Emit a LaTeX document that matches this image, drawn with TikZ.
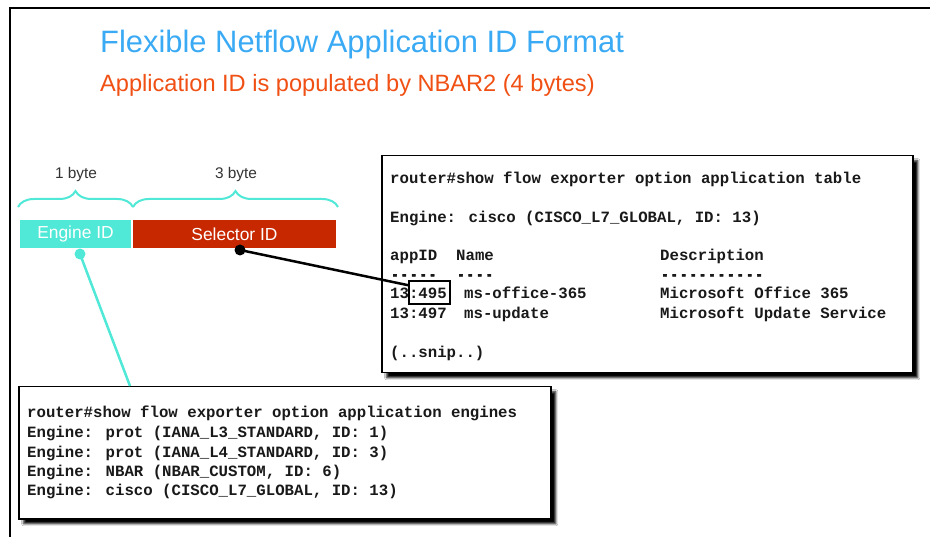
\documentclass[tikz,border=0pt]{standalone}
\usepackage{fontspec}
\usepackage{graphicx}
\setmainfont{Liberation Sans}
\newfontfamily\codefont{Liberation Mono}
\newfontfamily\dashfont{Liberation Mono Bold}[FakeBold=4]
\usetikzlibrary{decorations.pathreplacing,shadows.blur}
\definecolor{titleblue}{RGB}{58,170,245}
\definecolor{suborange}{RGB}{240,80,20}
\definecolor{tealc}{RGB}{80,232,214}
\definecolor{selred}{RGB}{200,40,0}
\newcommand\mydsh{\makebox[0.6em]{\scalebox{0.75}[1]{\dashfont -}}}
\begin{document}
\begin{tikzpicture}[x=1pt,y=-1pt,
  code/.style={font=\codefont\bfseries\fontsize{15.7}{19.5}\selectfont, anchor=base west, inner sep=0pt, text=black!90},
  termbox/.style={draw=black, line width=1.5pt, fill=white, inner sep=0pt, anchor=north west,
    blur shadow={shadow xshift=5pt, shadow yshift=-5pt, shadow opacity=100, shadow blur steps=4}},
  idbox/.style={text=white, font=\fontsize{17.4}{20}\selectfont, inner sep=0pt, minimum height=28pt},
  bracestyle/.style={draw=tealc, line width=2pt, decorate, decoration={brace, amplitude=16pt}},
  bytelabel/.style={font=\fontsize{15.4}{18}\selectfont, text=black!80, anchor=base},
  dotc/.style={line width=2.5pt}]
\useasboundingbox (0,0) rectangle (930,537);
\fill[white] (0,0) rectangle (930,537);
% frame
\draw[line width=2.5pt] (10,537) -- (10,8) -- (930,8);
% titles
\node[anchor=base west, inner sep=0pt, text=titleblue, font=\fontsize{30.9}{34}\selectfont] (title) at (100,53) {Flexible Netflow Application ID Format};
\node[anchor=base west, inner sep=0pt, text=suborange, font=\fontsize{23.6}{27}\selectfont] (subtitle) at (100,92) {Application ID is populated by NBAR2 (4 bytes)};
% byte labels and braces
\node[bytelabel] (onebyte) at (76,179) {1 byte};
\node[bytelabel] (threebyte) at (236,179) {3 byte};
\draw[bracestyle] (18,207) -- (133,207);
\draw[bracestyle] (133,207) -- (338,207);
% ID boxes
\node[idbox, fill=tealc, minimum width=111pt] (engid) at (75.5,234) {Engine ID};
\node[idbox, fill=selred, minimum width=203pt] (selid) at (234.5,234) {Selector ID};
% table box
\node[termbox, minimum width=531pt, minimum height=217pt] (tablebox) at (381,155) {};
\node[code] (t1) at (390,183.5) {router\#show flow exporter option application table};
\node[code] (t2) at (390,222.5) {Engine: cisco (CISCO\_L7\_GLOBAL, ID: 13)};
\node[code] (h1) at (390,260.5) {appID};
\node[code] (h2) at (456,260.5) {Name};
\node[code] (h3) at (660,260.5) {Description};
\node[code] (d1) at (390,279.5) {\mydsh\mydsh\mydsh\mydsh\mydsh};
\node[code] (d2) at (456,279.5) {\mydsh\mydsh\mydsh\mydsh};
\node[code] (d3) at (660,279.5) {\mydsh\mydsh\mydsh\mydsh\mydsh\mydsh\mydsh\mydsh\mydsh\mydsh\mydsh};
\node[code] (r1a) at (390,299) {13:495};
\node[code] (r1b) at (464,299) {ms-office-365};
\node[code] (r1c) at (660,299) {Microsoft Office 365};
\node[code] (r2a) at (390,319) {13:497};
\node[code] (r2b) at (464,319) {ms-update};
\node[code] (r2c) at (660,319) {Microsoft Update Service};
\node[code] (snip) at (390,357.5) {(..snip..)};
\node[draw=black, line width=2pt, minimum width=41pt, minimum height=23pt, inner sep=0pt] (sel) at (429.5,293) {};
% engines box
\node[termbox, minimum width=532pt, minimum height=132pt] (engbox) at (18,386) {};
\node[code] (e1) at (27,418) {router\#show flow exporter option application engines};
\node[code] (e2) at (27,438) {Engine: prot (IANA\_L3\_STANDARD, ID: 1)};
\node[code] (e3) at (27,457) {Engine: prot (IANA\_L4\_STANDARD, ID: 3)};
\node[code] (e4) at (27,476) {Engine: NBAR (NBAR\_CUSTOM, ID: 6)};
\node[code] (e5) at (27,496) {Engine: cisco (CISCO\_L7\_GLOBAL, ID: 13)};
% connectors
\coordinate (sdot) at (240,250);
\coordinate (edot) at (80,254);
\draw[dotc, black] (sdot) -- (sel.160);
\fill[black] (sdot) circle (5.5pt);
\draw[dotc, tealc] (edot) -- ([xshift=112pt]engbox.north west);
\fill[tealc] (edot) circle (5.5pt);
\end{tikzpicture}
\end{document}
